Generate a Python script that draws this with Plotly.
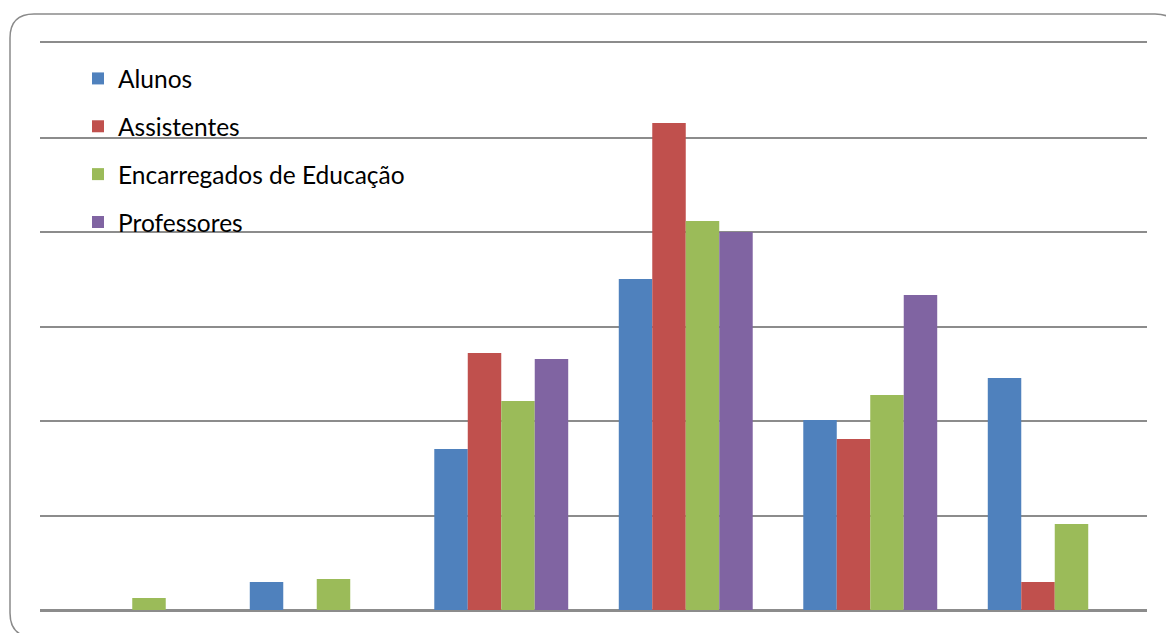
import plotly.graph_objects as go

categories = ["1", "2", "3", "4", "5", "6"]
series_names = ["Alunos", "Assistentes", "Encarregados de Educação", "Professores"]
alunos = [0, 1.48, 8.52, 17.51, 10.05, 12.28]
assistentes = [0, 0, 13.6, 25.77, 9.05, 1.48]
encarregados = [0.63, 1.64, 11.06, 20.58, 11.38, 4.55]
professores = [0, 0, 13.28, 20.0, 16.67, 0]
colors = ["#4F81BD", "#C0504D", "#9BBB59", "#8064A2"]

fig = go.Figure()
for i, (name, vals) in enumerate(zip(series_names, [alunos, assistentes, encarregados, professores])):
    fig.add_trace(go.Bar(
        x=categories, y=vals, name=name,
        marker=dict(color=colors[i], line=dict(width=0)),
        legendgroup=name,
    ))

W, H = 1166, 633
L, R, T, B = 40, 19, 43, 23
pw, ph = W - L - R, H - T - B

def px(x):
    return (x - L) / pw

def py(y):
    return (H - B - y) / ph

# rounded border path in paper coordinates
x0, x1, y0, y1, r = 10, 1179, 14, 637, 24
path = (
    f"M {px(x0)},{py(y0 + r)} "
    f"Q {px(x0)},{py(y0)} {px(x0 + r)},{py(y0)} "
    f"L {px(x1 - r)},{py(y0)} "
    f"Q {px(x1)},{py(y0)} {px(x1)},{py(y0 + r)} "
    f"L {px(x1)},{py(y1 - r)} "
    f"Q {px(x1)},{py(y1)} {px(x1 - r)},{py(y1)} "
    f"L {px(x0 + r)},{py(y1)} "
    f"Q {px(x0)},{py(y1)} {px(x0)},{py(y1 - r)} Z"
)

fig.update_layout(
    width=W, height=H,
    margin=dict(l=L, r=R, t=T, b=B, pad=0),
    paper_bgcolor="white", plot_bgcolor="white",
    barmode="group", bargap=0.274, bargroupgap=0,
    font=dict(family="Lato, Carlito, Calibri, sans-serif", size=24, color="#000000"),
    showlegend=True,
    legend=dict(
        x=px(78), y=py(56), xanchor="left", yanchor="top",
        bgcolor="rgba(0,0,0,0)", borderwidth=0,
        tracegroupgap=13, traceorder="grouped",
        font=dict(size=24.5),
    ),
    shapes=[dict(type="path", xref="paper", yref="paper", path=path,
                 line=dict(color="#8a8a8a", width=1.5), fillcolor="rgba(0,0,0,0)", layer="above")],
)
fig.update_xaxes(showticklabels=False, showgrid=False, zeroline=False, showline=True, mirror=True,
                 linecolor="#8c8c8c", linewidth=2, ticks="")
fig.update_yaxes(range=[0, 30], dtick=5, tick0=0, showticklabels=False, showgrid=True,
                 gridcolor="#8c8c8c", gridwidth=2, zeroline=True, zerolinecolor="#8c8c8c",
                 zerolinewidth=2, showline=False, ticks="")

fig.write_html("out.html", config={"displayModeBar": False},
               post_script="document.body.style.margin='0';document.body.style.overflow='hidden';")
